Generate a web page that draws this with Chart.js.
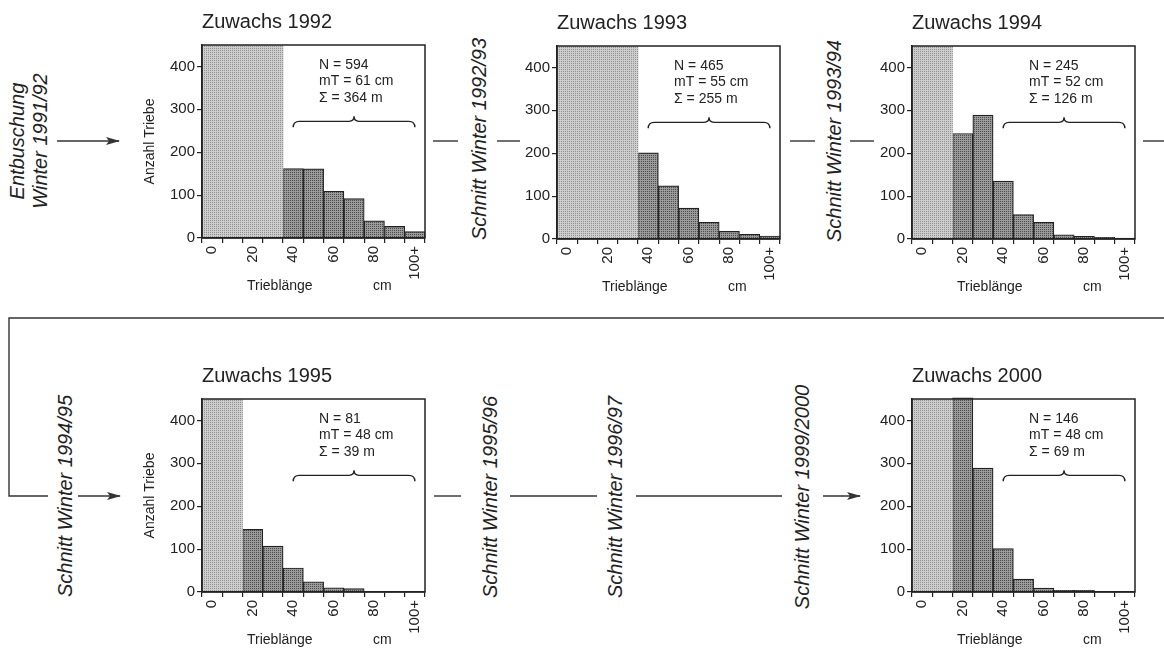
<!DOCTYPE html>
<html>
<head>
<meta charset="utf-8">
<script src="https://cdn.jsdelivr.net/npm/chart.js@4.4.1/dist/chart.umd.min.js"></script>
<style>
  html, body { margin: 0; padding: 0; background: #fff; }
  body { width: 1164px; height: 648px; position: relative; overflow: hidden;
         font-family: "Liberation Sans", Arial, sans-serif; color: #222; }
  canvas { position: absolute; }
  .rot { position: absolute; white-space: nowrap; font-style: italic; font-size: 20px;
         line-height: 23px; text-align: center; transform: translate(-50%, -50%) rotate(-90deg); }
  svg { position: absolute; left: 0; top: 0; }
</style>
</head>
<body>
<canvas id="c1992" width="297" height="298"></canvas>
<canvas id="c1993" width="297" height="298"></canvas>
<canvas id="c1994" width="297" height="298"></canvas>
<canvas id="c1995" width="297" height="298"></canvas>
<canvas id="c2000" width="297" height="298"></canvas>

<div class="rot" style="left:29px; top:141px;">Entbuschung<br>Winter 1991/92</div>
<div class="rot" style="left:479px; top:139px;">Schnitt Winter 1992/93</div>
<div class="rot" style="left:834px; top:141px;">Schnitt Winter 1993/94</div>
<div class="rot" style="left:65px; top:496px;">Schnitt Winter 1994/95</div>
<div class="rot" style="left:490px; top:497px;">Schnitt Winter 1995/96</div>
<div class="rot" style="left:615px; top:497px;">Schnitt Winter 1996/97</div>
<div class="rot" style="left:802px; top:497px;">Schnitt Winter 1999/2000</div>

<svg width="1164" height="648">
  <defs>
    <marker id="head" markerWidth="14" markerHeight="8" refX="13" refY="4" orient="auto" markerUnits="userSpaceOnUse">
      <path d="M0,0 L14,4 L0,8 L3,4 z" fill="#333"/>
    </marker>
  </defs>
  <g stroke="#333" stroke-width="1.4" fill="none">
    <line x1="57" y1="141" x2="119" y2="141" marker-end="url(#head)"/>
    <line x1="433" y1="141" x2="458" y2="141"/>
    <line x1="497" y1="141" x2="520" y2="141"/>
    <line x1="790" y1="141" x2="815" y2="141"/>
    <line x1="850" y1="141" x2="874" y2="141"/>
    <line x1="1143" y1="141" x2="1164" y2="141"/>
    <polyline points="1164,318 9,318 9,496 48,496"/>
    <line x1="78" y1="496" x2="120" y2="496" marker-end="url(#head)"/>
    <line x1="434" y1="496" x2="461" y2="496"/>
    <line x1="510" y1="496" x2="597" y2="496"/>
    <line x1="636" y1="496" x2="782" y2="496"/>
    <line x1="823" y1="496" x2="860" y2="496" marker-end="url(#head)"/>
  </g>
</svg>

<script>
// shoot length classes (cm), one bar per 10 cm
const binLabels = ['0', '', '20', '', '40', '', '60', '', '80', '', '100+'];

// number of shoots per class
const counts1992 = [null, null, null, null, 162, 161, 109, 92, 40, 27, 15];
const counts1993 = [null, null, null, null, 201, 124, 72, 39, 18, 11, 7];
const counts1994 = [null, null, 246, 289, 135, 57, 39, 10, 6, 4, 2];
const counts1995 = [null, null, 146, 107, 56, 24, 10, 8, 0, 0, 0];
const counts2000 = [null, null, 453, 289, 101, 30, 9, 4, 4, 0, 0];

// hatched region (classes not counted)
const shaded1992 = [450, 450, 450, 450, null, null, null, null, null, null, null];
const shaded1993 = [450, 450, 450, 450, null, null, null, null, null, null, null];
const shaded1994 = [450, 450, null, null, null, null, null, null, null, null, null];
const shaded1995 = [450, 450, null, null, null, null, null, null, null, null, null];
const shaded2000 = [450, 450, null, null, null, null, null, null, null, null, null];

const yTicks = [0, 100, 200, 300, 400];
const years = [1992, 1993, 1994, 1995, 2000];
const statN = [594, 465, 245, 81, 146];
const statMT = [61, 55, 52, 48, 48];
const statSum = [364, 255, 126, 39, 69];

const FONT = '"Liberation Sans", Arial, Helvetica, sans-serif';
const INK = '#222';

// stipple: one dark dot in every 2x2 cell
function dots(bg, fg) {
    let c = document.createElement('canvas');
    c.width = 2; c.height = 2;
    let g = c.getContext('2d');
    g.fillStyle = bg; g.fillRect(0, 0, 2, 2);
    g.fillStyle = fg; g.fillRect(0, 0, 1, 1);
    return g.createPattern(c, 'repeat');
}
const lightFill = dots('#cdcdcd', '#929292');
const darkFill = dots('#9a9a9a', '#4c4c4c');

// frame, brace, stats text and x axis caption
const decor = {
    id: 'decor',
    afterDatasetsDraw(chart, args, opts) {
        const { ctx, chartArea: a, scales: { x, y } } = chart;
        ctx.save();
        ctx.strokeStyle = INK;
        ctx.lineWidth = 1.5;
        ctx.strokeRect(a.left, a.top, a.right - a.left, a.bottom - a.top);

        ctx.fillStyle = INK;
        ctx.font = '14px ' + FONT;
        ctx.textBaseline = 'middle';
        const tx = a.left + 0.525 * (a.right - a.left);
        const ty = y.getPixelForValue(450) + 20;
        opts.lines.forEach((t, i) => ctx.fillText(t, tx, ty + i * 16.5));

        // curly brace over the counted classes
        const x1 = x.getPixelForValue(4), x2 = x.getPixelForValue(10);
        const xm = (x1 + x2) / 2, by = y.getPixelForValue(272);
        ctx.lineWidth = 1.4;
        ctx.beginPath();
        ctx.moveTo(x1, by + 6);
        ctx.quadraticCurveTo(x1, by, x1 + 6, by);
        ctx.lineTo(xm - 5, by);
        ctx.quadraticCurveTo(xm, by, xm, by - 5);
        ctx.quadraticCurveTo(xm, by, xm + 5, by);
        ctx.lineTo(x2 - 6, by);
        ctx.quadraticCurveTo(x2, by, x2, by + 6);
        ctx.stroke();

        ctx.textBaseline = 'middle';
        ctx.fillText('Trieblänge', a.left + 45, a.bottom + 48);
        ctx.fillText('cm', a.left + 171, a.bottom + 48);
        ctx.restore();
    }
};

function makeChart(id, i, counts, shaded, showYTitle, left, top) {
    let el = document.getElementById(id);
    el.style.left = (left - 62) + 'px';
    el.style.top = (top - 45) + 'px';
    return new Chart(el, {
        type: 'bar',
        plugins: [decor],
        data: {
            labels: binLabels,
            datasets: [{
                data: shaded,
                backgroundColor: lightFill,
                borderWidth: 0,
                grouped: false,
                barPercentage: 1,
                categoryPercentage: 1
            }, {
                data: counts,
                backgroundColor: darkFill,
                borderColor: INK,
                borderWidth: 1.2,
                grouped: false,
                barPercentage: 1,
                categoryPercentage: 1,
                clip: false
            }]
        },
        options: {
            responsive: false,
            animation: false,
            layout: { padding: { right: 12 } },
            plugins: {
                legend: { display: false },
                tooltip: { enabled: false },
                title: {
                    display: true,
                    text: 'Zuwachs ' + years[i],
                    align: 'start',
                    fullSize: false,
                    color: INK,
                    font: { family: FONT, size: 20, weight: 'normal' },
                    padding: { top: 10, bottom: 11 }
                },
                decor: {
                    lines: ['N = ' + statN[i], 'mT = ' + statMT[i] + ' cm', 'Σ = ' + statSum[i] + ' m']
                }
            },
            scales: {
                x: {
                    offset: true,
                    grid: { offset: true, drawOnChartArea: false, tickLength: 5, color: INK, lineWidth: 1.2 },
                    border: { color: INK, width: 1.5, z: 1 },
                    ticks: {
                        autoSkip: false, minRotation: 90, maxRotation: 90, padding: 3,
                        color: INK, font: { family: FONT, size: 15 }
                    },
                    afterFit(s) { s.height = 60; }
                },
                y: {
                    min: 0,
                    max: 450,
                    afterBuildTicks(s) { s.ticks = yTicks.map(v => ({ value: v })); },
                    grid: { drawOnChartArea: false, tickLength: 5, color: INK, lineWidth: 1.2 },
                    border: { color: INK, width: 1.5, z: 1 },
                    ticks: { padding: 2, color: INK, font: { family: FONT, size: 15 } },
                    title: {
                        display: showYTitle,
                        text: 'Anzahl Triebe',
                        color: INK,
                        font: { family: FONT, size: 14 },
                        padding: { top: 2, bottom: 0 }
                    },
                    afterFit(s) { s.width = 62; }
                }
            }
        }
    });
}

makeChart('c1992', 0, counts1992, shaded1992, true, 202, 45);
makeChart('c1993', 1, counts1993, shaded1993, false, 557, 46);
makeChart('c1994', 2, counts1994, shaded1994, false, 912, 46);
makeChart('c1995', 3, counts1995, shaded1995, true, 202, 399);
makeChart('c2000', 4, counts2000, shaded2000, false, 912, 399);
</script>
</body>
</html>
